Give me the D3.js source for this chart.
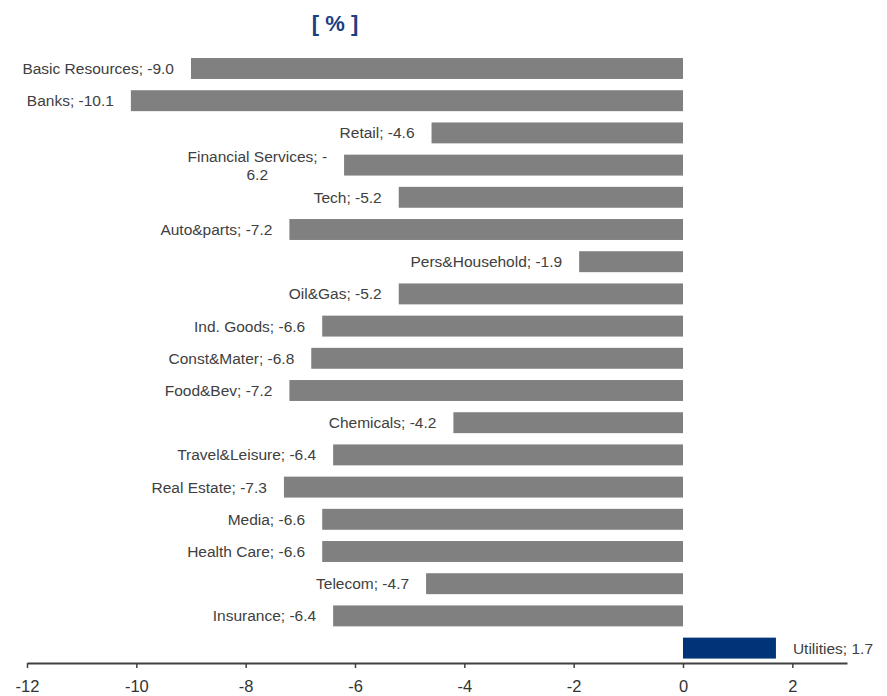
<!DOCTYPE html>
<html>
<head>
<meta charset="utf-8">
<script src="https://cdn.jsdelivr.net/npm/d3@7"></script>
<style>
  body { margin: 0; background: #fff; }
  svg { display: block; font-family: "Liberation Sans", Arial, sans-serif; }
</style>
</head>
<body>
<div id="chart"></div>
<script>
// sector performance, in %
const sectors = [
  "Basic Resources", "Banks", "Retail", "Financial Services", "Tech",
  "Auto&parts", "Pers&Household", "Oil&Gas", "Ind. Goods", "Const&Mater",
  "Food&Bev", "Chemicals", "Travel&Leisure", "Real Estate", "Media",
  "Health Care", "Telecom", "Insurance", "Utilities"
];
const values = [
  -9.0, -10.1, -4.6, -6.2, -5.2,
  -7.2, -1.9, -5.2, -6.6, -6.8,
  -7.2, -4.2, -6.4, -7.3, -6.6,
  -6.6, -4.7, -6.4, 1.7
];
const xTicks = [-12, -10, -8, -6, -4, -2, 0, 2];

const width = 887, height = 696;
const axisY = 663;
const labelGap = 17;
const maxLabelWidth = 156;

const data = sectors.map((s, i) => ({ sector: s, value: values[i] }));

const svg = d3.select("#chart").append("svg")
  .attr("width", width)
  .attr("height", height);

const x = d3.scaleLinear().domain([-12, 3]).range([27, 847]);
const y = d3.scaleBand()
  .domain(sectors)
  .range([52.4, 664.2])
  .paddingInner(0.35)
  .paddingOuter(0.175);

svg.append("text")
  .attr("x", 335)
  .attr("y", 31)
  .attr("text-anchor", "middle")
  .attr("fill", "#1c3f82")
  .style("font-size", "22px")
  .style("font-weight", "bold")
  .text("[ % ]");

svg.selectAll("rect.bar")
  .data(data)
  .enter()
  .append("rect")
    .attr("class", "bar")
    .attr("x", d => x(Math.min(0, d.value)))
    .attr("y", d => y(d.sector))
    .attr("width", d => Math.abs(x(d.value) - x(0)))
    .attr("height", y.bandwidth())
    .attr("fill", d => d.value < 0 ? "#808080" : "#003478");

// labels: "Sector; value", wrapped Excel-style if too long
const labels = svg.selectAll("text.lbl")
  .data(data)
  .enter()
  .append("text")
    .attr("class", "lbl")
    .attr("fill", "#404040")
    .style("font-size", "15.5px");

labels.each(function(d) {
  const t = d3.select(this);
  const full = d.sector + "; " + d.value.toFixed(1);
  const cy = y(d.sector) + y.bandwidth() / 2;
  const neg = d.value < 0;
  const edge = neg ? x(d.value) - labelGap : x(d.value) + labelGap;

  t.text(full);
  if (this.getComputedTextLength() <= maxLabelWidth) {
    t.attr("x", edge)
      .attr("y", cy)
      .attr("dy", "0.35em")
      .attr("text-anchor", neg ? "end" : "start");
    return;
  }

  // break after spaces / hyphens
  const tokens = full.match(/[^\s-]*(?:-|\s+|$)/g).filter(s => s.length);
  const lines = [];
  let cur = "";
  tokens.forEach(tok => {
    t.text(cur + tok);
    if (cur && this.getComputedTextLength() > maxLabelWidth) {
      lines.push(cur);
      cur = tok;
    } else {
      cur += tok;
    }
  });
  lines.push(cur);

  t.text(null);
  const widths = lines.map(l => { t.text(l.trim()); return this.getComputedTextLength(); });
  t.text(null);
  const w = d3.max(widths);
  const cx = neg ? edge - w / 2 : edge + w / 2;
  const lh = 18;
  lines.forEach((l, i) => {
    t.append("tspan")
      .attr("x", cx)
      .attr("y", cy + (i - (lines.length - 1) / 2) * lh)
      .attr("dy", "0.35em")
      .attr("text-anchor", "middle")
      .text(l.trim());
  });
});

const axis = svg.append("g")
  .attr("transform", `translate(0, ${axisY})`)
  .call(d3.axisBottom(x)
    .tickValues(xTicks)
    .tickSize(5)
    .tickSizeOuter(0)
    .tickPadding(12)
    .tickFormat(d => String(d)));

axis.select(".domain").attr("stroke", "#404040").attr("stroke-width", 1.8);
axis.selectAll(".tick line").attr("stroke", "#404040").attr("stroke-width", 1.5);
axis.selectAll(".tick text")
  .attr("fill", "#333")
  .style("font-size", "16.5px")
  .style("font-family", "'Liberation Sans', Arial, sans-serif");
</script>
</body>
</html>
